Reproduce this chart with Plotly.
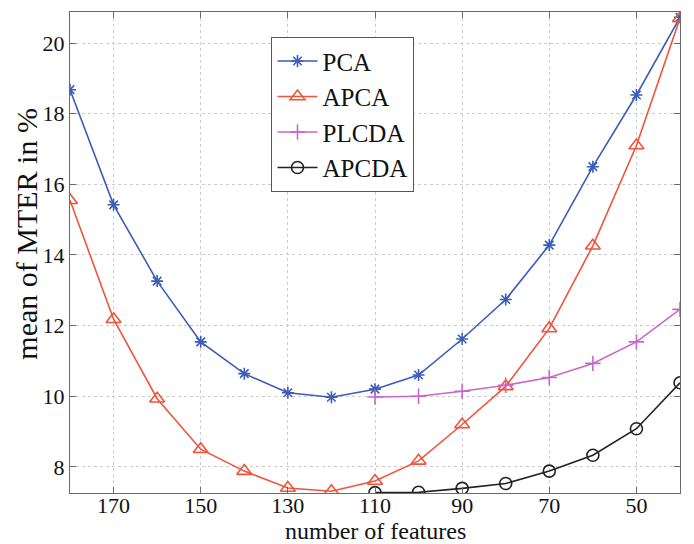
import plotly.graph_objects as go

features = [180, 170, 160, 150, 140, 130, 120, 110, 100, 90, 80, 70, 60, 50, 40]
pca = [18.68, 15.42, 13.26, 11.54, 10.64, 10.10, 9.97, 10.20, 10.60, 11.62, 12.74, 14.28, 16.50, 18.53, 20.73]
apca = [15.55, 12.18, 9.93, 8.50, 7.88, 7.40, 7.31, 7.60, 8.17, 9.20, 10.28, 11.92, 14.26, 17.10, 20.70]
plcda_x = [110, 100, 90, 80, 70, 60, 50, 40]
plcda = [9.98, 10.00, 10.14, 10.31, 10.53, 10.93, 11.54, 12.46]
apcda_x = [110, 100, 90, 80, 70, 60, 50, 40]
apcda = [7.27, 7.28, 7.39, 7.53, 7.88, 8.33, 9.08, 10.38]
x_ticks = [170, 150, 130, 110, 90, 70, 50]
y_ticks = [8, 10, 12, 14, 16, 18, 20]

font = "Liberation Serif, Times New Roman, serif"

fig = go.Figure()
fig.add_trace(go.Scatter(x=features, y=pca, name="PCA", mode="lines+markers",
                         line=dict(color="#3b5cb8", width=1.6),
                         marker=dict(symbol="asterisk-open", size=10,
                                     line=dict(color="#3b5cb8", width=1.6))))
fig.add_trace(go.Scatter(x=features, y=apca, name="APCA", mode="lines+markers",
                         line=dict(color="#f0543c", width=1.6),
                         marker=dict(symbol="triangle-up-open", size=13,
                                     line=dict(color="#f0543c", width=1.6))))
fig.add_trace(go.Scatter(x=plcda_x, y=plcda, name="PLCDA", mode="lines+markers",
                         line=dict(color="#c966c9", width=1.6),
                         marker=dict(symbol="cross-thin-open", size=11,
                                     line=dict(color="#c966c9", width=1.6))))
fig.add_trace(go.Scatter(x=apcda_x, y=apcda, name="APCDA", mode="lines+markers",
                         line=dict(color="#222222", width=1.6),
                         marker=dict(symbol="circle-open", size=12,
                                     line=dict(color="#222222", width=1.6))))

axis_common = dict(
    showline=True, linecolor="#6a6a6a", linewidth=1.2, mirror="ticks",
    ticks="inside", ticklen=6, tickcolor="#6a6a6a",
    showgrid=True, gridcolor="#cdcdcd", griddash="dot", gridwidth=1,
    zeroline=False, tickfont=dict(family=font, size=22, color="#111"),
    automargin=False,
)

fig.update_layout(
    width=686, height=536,
    margin=dict(l=62, r=14, t=4, b=51),
    paper_bgcolor="white", plot_bgcolor="white",
    font=dict(family=font, color="#111"),
    xaxis=dict(range=[180, 40], tickvals=x_ticks, ticklabelstandoff=-8, **axis_common),
    yaxis=dict(range=[7.26, 20.88], tickvals=y_ticks, **axis_common),
    legend=dict(x=0.330, y=0.948, xanchor="left", yanchor="top",
                bgcolor="white", bordercolor="#555", borderwidth=1.2,
                font=dict(family=font, size=25, color="#111"),
                tracegroupgap=0, itemwidth=40),
    showlegend=True,
    annotations=[
        dict(text="number of features", xref="paper", yref="paper",
             x=0.5, y=-0.079, xanchor="center", yanchor="middle",
             showarrow=False, font=dict(family=font, size=24, color="#111")),
        dict(text="mean of MTER in %", xref="paper", yref="paper",
             x=-0.071, y=0.5385, xanchor="center", yanchor="middle", textangle=-90,
             showarrow=False, font=dict(family=font, size=30, color="#111")),
    ],
)

fig.write_html("out.html")
